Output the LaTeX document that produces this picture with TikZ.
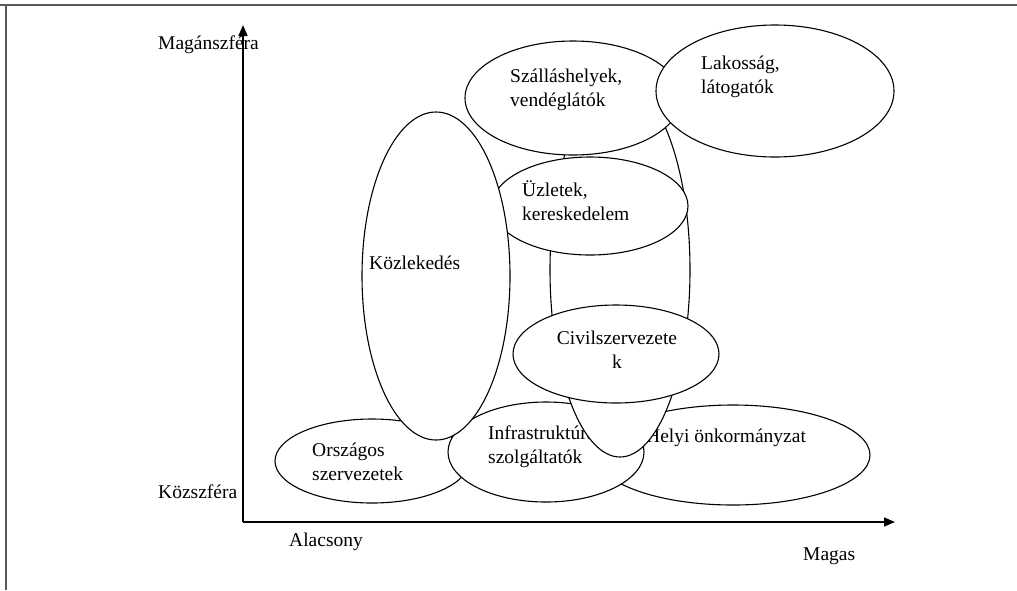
\documentclass[tikz,border=0pt]{standalone}
\usepackage{fontspec}
\setmainfont{Liberation Serif}
\usetikzlibrary{shapes.geometric,arrows.meta}
\begin{document}
\begin{tikzpicture}[x=1pt,y=-1pt,
 ell/.style={ellipse,draw,fill=white,line width=1.1pt,inner sep=0pt},
 lbl/.style={inner sep=0pt,align=left,font=\fontsize{19.5}{24}\selectfont},
 clbl/.style={inner sep=0pt,align=center,font=\fontsize{19.5}{24}\selectfont},
 axisline/.style={line width=1.6pt,-{Triangle[length=11pt,width=9pt]}},
 frameline/.style={draw=black!65,line width=1.5pt}]
\useasboundingbox (0,0) rectangle (1017,590);
\draw[frameline] (0,5) -- (1017,5);
\draw[frameline] (6,5) -- (6,590);
% axes
\coordinate (origin) at (243,522);
\coordinate (ytop) at (243,25);
\coordinate (xend) at (895,522);
\draw[axisline] (origin) -- (ytop);
\draw[axisline] (origin) -- (xend);
\node[lbl,anchor=west] (tmagan) at (158,45) {Magánszféra};
\node[lbl,anchor=west] (tkoz) at (158,492) {Közszféra};
\node[lbl,anchor=west] (talac) at (289,542) {Alacsony};
\node[lbl,anchor=west] (tmagas) at (803,556) {Magas};
% ellipses in stacking order
\node[ell,minimum width=194pt,minimum height=84pt] (ors) at (372,461) {};
\node[lbl,anchor=west] (tors) at (312,462) {Országos\\szervezetek};
\node[ell,minimum width=274pt,minimum height=100pt] (hely) at (733,455) {};
\node[lbl,anchor=west] (thely) at (646,438) {Helyi önkormányzat};
\node[ell,minimum width=196pt,minimum height=100pt] (infra) at (546,452) {};
\node[lbl,anchor=west] (tinfra) at (488,447) {Infrastruktúra\\szolgáltatók};
\node[ell,minimum width=140pt,minimum height=374pt] (tall) at (620,270) {};
\node[ell,minimum width=196pt,minimum height=98pt] (uzl) at (590,206) {};
\node[lbl,anchor=west] (tuzl) at (522,201) {Üzletek,\\kereskedelem};
\node[ell,minimum width=148pt,minimum height=328pt] (kozl) at (436,276) {};
\node[lbl,anchor=west] (tkozl) at (369,263) {Közlekedés};
\node[ell,minimum width=206pt,minimum height=98pt] (civ) at (616,354) {};
\node[clbl] (tciv) at (617,350) {Civilszervezete\\k};
\node[ell,minimum width=216pt,minimum height=114pt] (szall) at (573,98) {};
\node[lbl,anchor=west] (tszall) at (510,90) {Szálláshelyek,\\vendéglátók};
\node[ell,minimum width=238pt,minimum height=132pt] (lak) at (775,91) {};
\node[lbl,anchor=west] (tlak) at (701,77) {Lakosság,\\látogatók};
\end{tikzpicture}
\end{document}
